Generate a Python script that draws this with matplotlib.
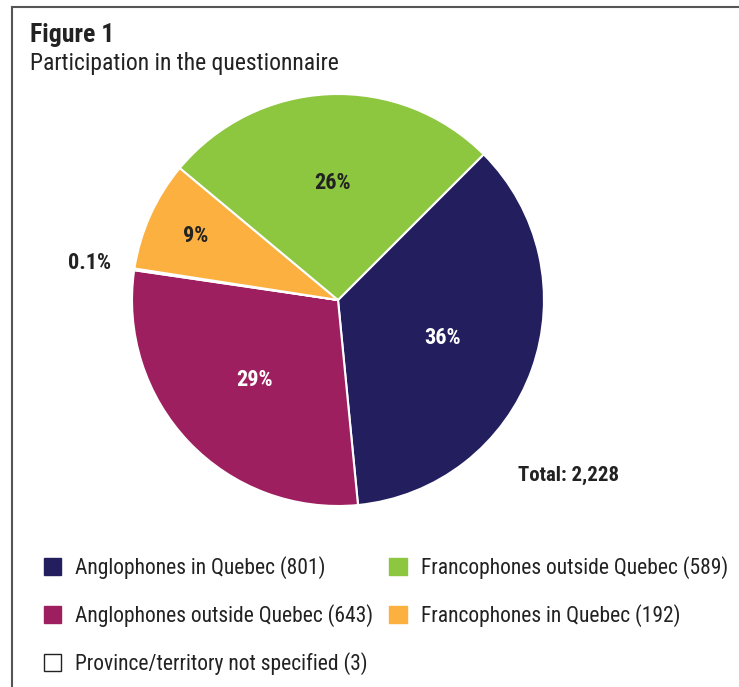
import numpy as np
import matplotlib
matplotlib.use("Agg")
import matplotlib.pyplot as plt
from matplotlib.lines import Line2D

plt.rcParams['font.family'] = ['Roboto Condensed', 'Barlow Semi Condensed', 'DejaVu Sans']

# data, in the order the slices are drawn (clockwise from the top right)
labels = ["Anglophones in Quebec (801)",
          "Anglophones outside Quebec (643)",
          "Province/territory not specified (3)",
          "Francophones in Quebec (192)",
          "Francophones outside Quebec (589)"]
counts = [801, 643, 3, 192, 589]
pct_text = ["36%", "29%", "0.1%", "9%", "26%"]
total_text = "Total: 2,228"

colors = ["#231f5f", "#9e1f60", "#ffffff", "#fbb040", "#8dc63f"]
pct_colors = ["white", "white", "#222222", "#222222", "#222222"]
pct_dist = [0.54, 0.56, 1.22, 0.76, 0.57]


def main():
    fig = plt.figure(figsize=(7.39, 6.87), dpi=100)
    W, H = 739, 687

    # frame (top and left only)
    fig.add_artist(Line2D([12 / W, 12 / W], [0, 1 - 7 / H], transform=fig.transFigure,
                          color="#555555", lw=1.5))
    fig.add_artist(Line2D([12 / W, 1], [1 - 7 / H, 1 - 7 / H], transform=fig.transFigure,
                          color="#555555", lw=1.5))

    fig.text(30 / W, 1 - 23 / H, "Figure 1", fontsize=18.5, fontweight="bold",
             color="#222222", va="top", ha="left")
    fig.text(30 / W, 1 - 52 / H, "Participation in the questionnaire", fontsize=17,
             color="#222222", va="top", ha="left")

    cx, cy, r = 338, 300, 206
    ax = fig.add_axes([(cx - r) / W, 1 - (cy + r) / H, 2 * r / W, 2 * r / H])
    wedges, _ = ax.pie(counts, colors=colors, startangle=45, counterclock=False,
                       radius=1, wedgeprops=dict(edgecolor="white", linewidth=1.5))
    ax.set_xlim(-1, 1)
    ax.set_ylim(-1, 1)
    ax.set_aspect("equal")
    ax.axis("off")

    for w, t, c, d in zip(wedges, pct_text, pct_colors, pct_dist):
        ang = np.deg2rad((w.theta1 + w.theta2) / 2)
        ax.text(d * np.cos(ang), d * np.sin(ang), t, ha="center", va="center",
                fontsize=16, fontweight="bold", color=c, clip_on=False)

    fig.text(568 / W, 1 - 475 / H, total_text, fontsize=15, fontweight="bold",
             color="#222222", ha="center", va="center")

    # legend: first column holds three entries, second column two
    order = [0, 1, 2, 4, 3]
    hdl = [wedges[i] for i in order]
    lbl = [labels[i] for i in order]
    leg = fig.legend(hdl, lbl, ncol=2, loc="upper left",
                     bbox_to_anchor=(44 / W, 1 - 556 / H), frameon=False,
                     fontsize=15.5, handlelength=0.8, handleheight=0.8,
                     handletextpad=0.65, labelspacing=1.16, columnspacing=0.75,
                     borderaxespad=0, borderpad=0)
    for h, w in zip(leg.legend_handles, hdl):
        fc = w.get_facecolor()
        h.set_linewidth(1.0)
        h.set_edgecolor("#222222" if min(fc[:3]) > 0.99 else fc)
    for t in leg.get_texts():
        t.set_color("#222222")

    fig.savefig("out.png", dpi=100)


if __name__ == "__main__":
    main()
